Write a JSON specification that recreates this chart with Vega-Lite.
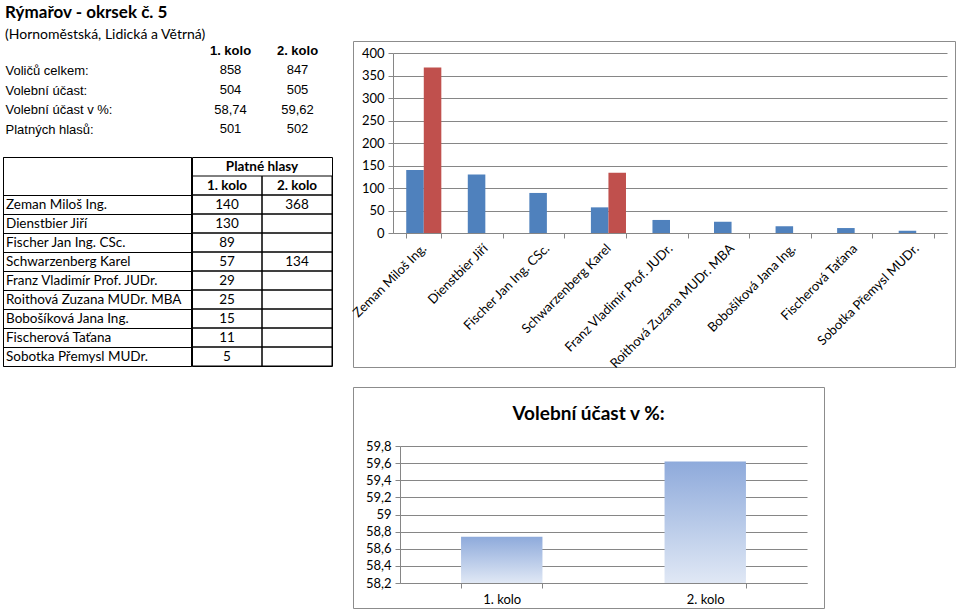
{
  "$schema": "https://vega.github.io/schema/vega-lite/v6.json",
  "padding": {"left": 2, "top": 3, "right": 0, "bottom": 0},
  "background": "white",
  "title": {
    "text": "Rýmařov - okrsek č. 5",
    "subtitle": "(Hornoměstská, Lidická a Větrná)",
    "anchor": "start",
    "frame": "group",
    "dx": 2,
    "font": "Lato",
    "fontSize": 17,
    "fontWeight": "bold",
    "color": "black",
    "subtitleFont": "Lato",
    "subtitleFontSize": 14,
    "subtitleColor": "black",
    "subtitlePadding": 6,
    "offset": -2
  },
  "config": {
    "locale": {"number": {"decimal": ",", "thousands": " ", "grouping": [3], "currency": ["", " Kč"]}},
    "view": {"stroke": null}
  },
  "datasets": {
    "prehled": [
      {"polozka": "Voličů celkem:", "kolo": "1. kolo", "hodnota": 858},
      {"polozka": "Voličů celkem:", "kolo": "2. kolo", "hodnota": 847},
      {"polozka": "Volební účast:", "kolo": "1. kolo", "hodnota": 504},
      {"polozka": "Volební účast:", "kolo": "2. kolo", "hodnota": 505},
      {"polozka": "Volební účast v %:", "kolo": "1. kolo", "hodnota": 58.74},
      {"polozka": "Volební účast v %:", "kolo": "2. kolo", "hodnota": 59.62},
      {"polozka": "Platných hlasů:", "kolo": "1. kolo", "hodnota": 501},
      {"polozka": "Platných hlasů:", "kolo": "2. kolo", "hodnota": 502}
    ],
    "hlasy": [
      {"kandidat": "Zeman Miloš Ing.", "kolo": "1. kolo", "hlasy": 140},
      {"kandidat": "Zeman Miloš Ing.", "kolo": "2. kolo", "hlasy": 368},
      {"kandidat": "Dienstbier Jiří", "kolo": "1. kolo", "hlasy": 130},
      {"kandidat": "Dienstbier Jiří", "kolo": "2. kolo", "hlasy": null},
      {"kandidat": "Fischer Jan Ing. CSc.", "kolo": "1. kolo", "hlasy": 89},
      {"kandidat": "Fischer Jan Ing. CSc.", "kolo": "2. kolo", "hlasy": null},
      {"kandidat": "Schwarzenberg Karel", "kolo": "1. kolo", "hlasy": 57},
      {"kandidat": "Schwarzenberg Karel", "kolo": "2. kolo", "hlasy": 134},
      {"kandidat": "Franz Vladimír Prof. JUDr.", "kolo": "1. kolo", "hlasy": 29},
      {"kandidat": "Franz Vladimír Prof. JUDr.", "kolo": "2. kolo", "hlasy": null},
      {"kandidat": "Roithová Zuzana MUDr. MBA", "kolo": "1. kolo", "hlasy": 25},
      {"kandidat": "Roithová Zuzana MUDr. MBA", "kolo": "2. kolo", "hlasy": null},
      {"kandidat": "Bobošíková Jana Ing.", "kolo": "1. kolo", "hlasy": 15},
      {"kandidat": "Bobošíková Jana Ing.", "kolo": "2. kolo", "hlasy": null},
      {"kandidat": "Fischerová Taťana", "kolo": "1. kolo", "hlasy": 11},
      {"kandidat": "Fischerová Taťana", "kolo": "2. kolo", "hlasy": null},
      {"kandidat": "Sobotka Přemysl MUDr.", "kolo": "1. kolo", "hlasy": 5},
      {"kandidat": "Sobotka Přemysl MUDr.", "kolo": "2. kolo", "hlasy": null}
    ],
    "hlavicka": [
      {"radek": "h2", "kolo": "1. kolo"},
      {"radek": "h2", "kolo": "2. kolo"}
    ]
  },
  "spacing": 15,
  "hconcat": [
    {
      "spacing": 17,
      "vconcat": [
        {
          "width": 328,
          "height": 98,
          "view": {"stroke": null},
          "layer": [
            {
              "data": {"values": [{"kolo": "1. kolo"}, {"kolo": "2. kolo"}]},
              "mark": {"type": "text", "font": "Liberation Sans", "fontSize": 13, "fontWeight": "bold", "color": "black"},
              "encoding": {
                "x": {"field": "kolo", "type": "nominal", "scale": {"domain": ["1. kolo", "2. kolo"], "range": [194, 328], "paddingInner": 0, "paddingOuter": 0}, "axis": null},
                "y": {"datum": "hlavička", "type": "nominal"},
                "text": {"field": "kolo"}
              }
            },
            {
              "data": {"name": "prehled"},
              "mark": {"type": "text", "font": "Liberation Sans", "fontSize": 13, "color": "black"},
              "encoding": {
                "x": {"field": "kolo", "type": "nominal"},
                "y": {
                  "field": "polozka", "type": "nominal",
                  "scale": {"domain": ["hlavička", "Voličů celkem:", "Volební účast:", "Volební účast v %:", "Platných hlasů:"], "paddingInner": 0, "paddingOuter": 0.08},
                  "axis": {"title": null, "domain": false, "ticks": false, "tickSize": 0, "grid": false, "labelAlign": "left", "labelPadding": -2, "labelFont": "Liberation Sans", "labelFontSize": 13, "labelColor": "black", "labelLimit": 300, "labelExpr": "datum.value === 'hlavička' ? '' : datum.label"}
                },
                "text": {"field": "hodnota", "type": "quantitative", "format": "~r"}
              }
            }
          ]
        },
        {
          "spacing": -2,
          "hconcat": [
            {
              "width": 188,
              "height": 209,
              "view": {"stroke": "black", "strokeWidth": 1},
              "data": {"name": "hlasy"},
              "transform": [{"filter": "datum.kolo === '1. kolo'"}],
              "mark": {"type": "text", "align": "left", "dx": 3, "font": "Lato", "fontSize": 13.5, "color": "black"},
              "encoding": {
                "x": {"datum": "jméno", "type": "nominal", "scale": {"type": "point", "padding": 0, "align": 0}, "axis": null},
                "y": {
                  "field": "kandidat", "type": "nominal",
                  "scale": {"domain": ["h1", "h2", "Zeman Miloš Ing.", "Dienstbier Jiří", "Fischer Jan Ing. CSc.", "Schwarzenberg Karel", "Franz Vladimír Prof. JUDr.", "Roithová Zuzana MUDr. MBA", "Bobošíková Jana Ing.", "Fischerová Taťana", "Sobotka Přemysl MUDr."], "paddingInner": 0, "paddingOuter": 0},
                  "axis": {"title": null, "labels": false, "ticks": false, "domain": false, "grid": true, "tickBand": "extent", "gridOpacity": 1, "gridWidth": 1, "gridColor": {"condition": {"test": "datum.value === 'h1'", "value": "transparent"}, "value": "black"}}
                },
                "text": {"field": "kandidat"}
              }
            },
            {
              "width": 140,
              "height": 209,
              "view": {"stroke": "black", "strokeWidth": 1},
              "layer": [
                {
                  "data": {"name": "hlasy"},
                  "mark": {"type": "rect", "filled": false, "stroke": "black", "strokeWidth": 1},
                  "encoding": {
                    "x": {"field": "kolo", "type": "nominal", "scale": {"domain": ["1. kolo", "2. kolo"], "paddingInner": 0, "paddingOuter": 0}, "axis": null},
                    "y": {"field": "kandidat", "type": "nominal", "scale": {"domain": ["h1", "h2", "Zeman Miloš Ing.", "Dienstbier Jiří", "Fischer Jan Ing. CSc.", "Schwarzenberg Karel", "Franz Vladimír Prof. JUDr.", "Roithová Zuzana MUDr. MBA", "Bobošíková Jana Ing.", "Fischerová Taťana", "Sobotka Přemysl MUDr."], "paddingInner": 0, "paddingOuter": 0}, "axis": null}
                  }
                },
                {
                  "data": {"name": "hlavicka"},
                  "mark": {"type": "rect", "filled": false, "stroke": "black", "strokeWidth": 1},
                  "encoding": {
                    "x": {"field": "kolo", "type": "nominal"},
                    "y": {"field": "radek", "type": "nominal"}
                  }
                },
                {
                  "data": {"name": "hlavicka"},
                  "mark": {"type": "text", "font": "Lato", "fontSize": 13.5, "fontWeight": "bold", "color": "black"},
                  "encoding": {
                    "x": {"field": "kolo", "type": "nominal"},
                    "y": {"field": "radek", "type": "nominal"},
                    "text": {"field": "kolo"}
                  }
                },
                {
                  "data": {"values": [{"nadpis": "Platné hlasy"}]},
                  "mark": {"type": "text", "font": "Lato", "fontSize": 13.5, "fontWeight": "bold", "color": "black"},
                  "encoding": {
                    "x": {"datum": "1. kolo", "type": "nominal", "bandPosition": 1},
                    "y": {"datum": "h1", "type": "nominal"},
                    "text": {"field": "nadpis"}
                  }
                },
                {
                  "data": {"name": "hlasy"},
                  "transform": [{"filter": "datum.hlasy != null"}],
                  "mark": {"type": "text", "font": "Lato", "fontSize": 13.5, "color": "black"},
                  "encoding": {
                    "x": {"field": "kolo", "type": "nominal"},
                    "y": {"field": "kandidat", "type": "nominal"},
                    "text": {"field": "hlasy", "type": "quantitative", "format": "d"}
                  }
                }
              ]
            }
          ]
        }
      ]
    },
    {
      "spacing": 15,
      "vconcat": [
        {
          "width": 602,
          "height": 326,
          "view": {"stroke": "#8c8c8c", "strokeWidth": 1},
          "data": {"name": "hlasy"},
          "transform": [{"filter": "datum.hlasy != null"}],
          "mark": {"type": "bar"},
          "encoding": {
            "x": {
              "field": "kandidat", "type": "nominal", "sort": null,
              "scale": {"domain": ["Zeman Miloš Ing.", "Dienstbier Jiří", "Fischer Jan Ing. CSc.", "Schwarzenberg Karel", "Franz Vladimír Prof. JUDr.", "Roithová Zuzana MUDr. MBA", "Bobošíková Jana Ing.", "Fischerová Taťana", "Sobotka Přemysl MUDr."], "range": [40, 594], "paddingInner": 0.43, "paddingOuter": 0.215},
              "axis": {"title": null, "offset": -134, "domainColor": "#868686", "tickColor": "#868686", "tickSize": 5, "tickBand": "extent", "labelAngle": -45, "labelAlign": "right", "labelBaseline": "middle", "labelPadding": 8, "labelFont": "Lato", "labelFontSize": 13, "labelColor": "black", "labelLimit": 300, "grid": false}
            },
            "xOffset": {"field": "kolo", "type": "nominal", "scale": {"domain": ["1. kolo", "2. kolo"], "paddingInner": 0, "paddingOuter": 0}},
            "y": {
              "field": "hlasy", "type": "quantitative",
              "scale": {"domain": [0, 400], "range": [192, 12], "nice": false},
              "axis": {"title": null, "offset": -40, "values": [0, 50, 100, 150, 200, 250, 300, 350, 400], "domainColor": "#868686", "tickColor": "#868686", "tickSize": 5, "labelPadding": 4, "labelFont": "Lato", "labelFontSize": 13, "labelColor": "black", "grid": true, "gridColor": "#868686", "gridOpacity": 1}
            },
            "color": {"field": "kolo", "type": "nominal", "scale": {"domain": ["1. kolo", "2. kolo"], "range": ["#4f81bd", "#c0504d"]}, "legend": null}
          }
        },
        {
          "width": 471,
          "height": 221,
          "view": {"stroke": "#8c8c8c", "strokeWidth": 1},
          "title": {"text": "Volební účast v %:", "font": "Lato", "fontSize": 19, "fontWeight": "bold", "color": "black", "anchor": "middle", "offset": -37},
          "data": {"name": "prehled"},
          "transform": [{"filter": "datum.polozka === 'Volební účast v %:'"}],
          "mark": {"type": "bar", "color": {"gradient": "linear", "x1": 0, "y1": 0, "x2": 0, "y2": 1, "stops": [{"offset": 0, "color": "#8eaadb"}, {"offset": 1, "color": "#e0e8f5"}]}},
          "encoding": {
            "x": {
              "field": "kolo", "type": "nominal",
              "scale": {"domain": ["1. kolo", "2. kolo"], "range": [47, 454], "paddingInner": 0.6, "paddingOuter": 0.3},
              "axis": {"title": null, "offset": -25, "labelAngle": 0, "domainColor": "#868686", "tickColor": "#868686", "tickSize": 5, "tickBand": "extent", "labelPadding": 5, "labelFont": "Lato", "labelFontSize": 13, "labelColor": "black", "grid": false}
            },
            "y": {
              "field": "hodnota", "type": "quantitative",
              "scale": {"domain": [58.2, 59.8], "range": [196, 59], "nice": false, "zero": false},
              "axis": {"title": null, "offset": -47, "values": [58.2, 58.4, 58.6, 58.8, 59, 59.2, 59.4, 59.6, 59.8], "format": "~r", "domainColor": "#868686", "tickColor": "#868686", "tickSize": 5, "labelPadding": 4, "labelFont": "Lato", "labelFontSize": 13, "labelColor": "black", "grid": true, "gridColor": "#868686", "gridOpacity": 1}
            },
            "y2": {"datum": 58.2}
          }
        }
      ]
    }
  ]
}
